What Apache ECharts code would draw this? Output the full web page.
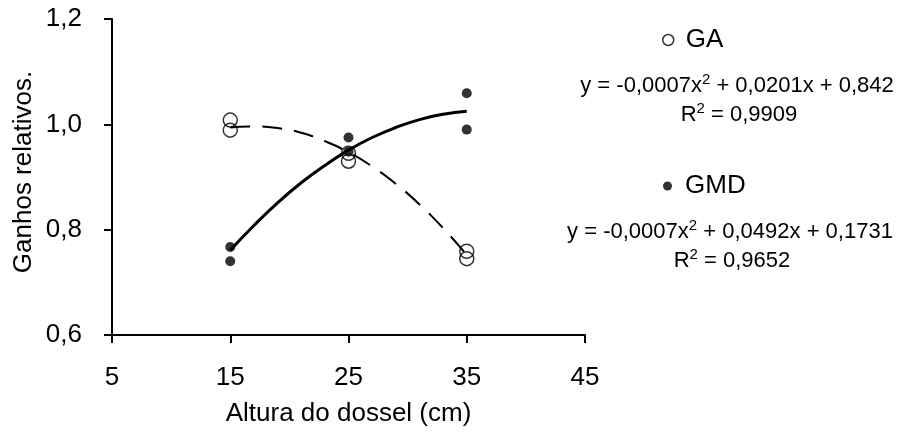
<!DOCTYPE html>
<html>
<head>
<meta charset="utf-8">
<script src="https://cdn.jsdelivr.net/npm/echarts@6/dist/echarts.min.js"></script>
<style>
  html, body { margin: 0; padding: 0; background: #fff; }
  #main { width: 898px; height: 436px; }
</style>
</head>
<body>
<div id="main"></div>
<script>
// observed points
const gaX = [15, 15, 25, 25, 35, 35];
const gaY = [1.008, 0.989, 0.945, 0.930, 0.759, 0.745];
const gmdX = [15, 15, 25, 25, 35, 35];
const gmdY = [0.767, 0.740, 0.975, 0.948, 1.059, 0.990];

// trend lines
const trendX = [15, 17, 19, 21, 23, 25, 27, 29, 31, 33, 35];
const gaTrend = [0.994, 0.996, 0.993, 0.984, 0.968, 0.947, 0.920, 0.887, 0.848, 0.803, 0.752];
const gmdTrend = [0.761, 0.808, 0.851, 0.889, 0.922, 0.951, 0.975, 0.994, 1.009, 1.019, 1.025];

const yTicks = ['0,6', '0,8', '1,0', '1,2'];

const FONT = "'Liberation Sans', Arial, sans-serif";

function pairs(xs, ys) {
    return xs.map((x, i) => [x, ys[i]]);
}

const chart = echarts.init(document.getElementById('main'), null, { renderer: 'canvas' });

const supRich = {
    sup: { fontSize: 15, fontFamily: FONT, color: '#000', verticalAlign: 'top', lineHeight: 28 },
    n: { fontSize: 22, fontFamily: FONT, color: '#000', lineHeight: 28 }
};

function eqText(x, y, str) {
    return {
        type: 'text',
        x: x,
        y: y,
        style: {
            text: str,
            rich: supRich,
            textAlign: 'center',
            textVerticalAlign: 'middle',
            fontSize: 22,
            fontFamily: FONT,
            fill: '#000'
        }
    };
}

const option = {
    backgroundColor: '#fff',
    animation: false,
    grid: { left: 112, right: 313, top: 19, bottom: 101 },
    xAxis: {
        type: 'value',
        min: 5,
        max: 45,
        interval: 10,
        name: 'Altura do dossel (cm)',
        nameLocation: 'middle',
        nameGap: 66,
        nameTextStyle: { fontSize: 26, fontFamily: FONT, color: '#000' },
        axisLine: { lineStyle: { color: '#000', width: 2 } },
        axisTick: { inside: false, length: 8, lineStyle: { color: '#000', width: 2 } },
        axisLabel: { margin: 30, fontSize: 26, fontFamily: FONT, color: '#000' },
        splitLine: { show: false }
    },
    yAxis: {
        type: 'value',
        min: 0.6,
        max: 1.2,
        interval: 0.2,
        axisLine: { show: true, lineStyle: { color: '#000', width: 2 } },
        axisTick: { show: true, inside: false, length: 8, lineStyle: { color: '#000', width: 2 } },
        axisLabel: {
            margin: 30,
            fontSize: 26,
            fontFamily: FONT,
            color: '#000',
            formatter: function (v) {
                return yTicks[Math.round((v - 0.6) / 0.2)];
            }
        },
        splitLine: { show: false }
    },
    legend: [{
        left: 657,
        top: 22,
        itemWidth: 11,
        itemHeight: 11,
        textStyle: { fontSize: 26, fontFamily: FONT, color: '#000', padding: [0, 0, 0, 7] },
        data: [{ name: 'GA', icon: 'circle', itemStyle: { color: 'rgba(0,0,0,0)', borderColor: '#000', borderWidth: 1.5 } }]
    }, {
        left: 658,
        top: 168,
        itemWidth: 9,
        itemHeight: 9,
        textStyle: { fontSize: 26, fontFamily: FONT, color: '#000', padding: [0, 0, 0, 8] },
        data: [{ name: 'GMD', icon: 'circle', itemStyle: { color: '#000' } }]
    }],
    graphic: [
        {
            type: 'text',
            x: 24,
            y: 172,
            rotation: Math.PI / 2,
            style: {
                text: 'Ganhos relativos.',
                textAlign: 'center',
                textVerticalAlign: 'middle',
                fontSize: 26,
                fontFamily: FONT,
                fill: '#000'
            }
        },
        eqText(737, 86, '{n|y = -0,0007x}{sup|2}{n| + 0,0201x + 0,842}'),
        eqText(739, 115, '{n|R}{sup|2}{n| = 0,9909}'),
        eqText(730, 232, '{n|y = -0,0007x}{sup|2}{n| + 0,0492x + 0,1731}'),
        eqText(732, 261, '{n|R}{sup|2}{n| = 0,9652}')
    ],
    series: [
        {
            name: 'GA trend',
            type: 'line',
            smooth: true,
            symbol: 'none',
            data: pairs(trendX, gaTrend),
            lineStyle: { color: '#000', width: 2, type: [20, 12] },
            z: 2
        },
        {
            name: 'GMD trend',
            type: 'line',
            smooth: true,
            symbol: 'none',
            data: pairs(trendX, gmdTrend),
            lineStyle: { color: '#000', width: 3 },
            z: 2
        },
        {
            name: 'GA',
            type: 'scatter',
            symbol: 'circle',
            symbolSize: 14,
            data: pairs(gaX, gaY),
            itemStyle: { color: 'rgba(0,0,0,0)', borderColor: '#000', borderWidth: 1.5 },
            z: 3
        },
        {
            name: 'GMD',
            type: 'scatter',
            symbol: 'circle',
            symbolSize: 10,
            data: pairs(gmdX, gmdY),
            itemStyle: { color: '#000' },
            z: 3
        }
    ]
};

chart.setOption(option);
</script>
</body>
</html>
